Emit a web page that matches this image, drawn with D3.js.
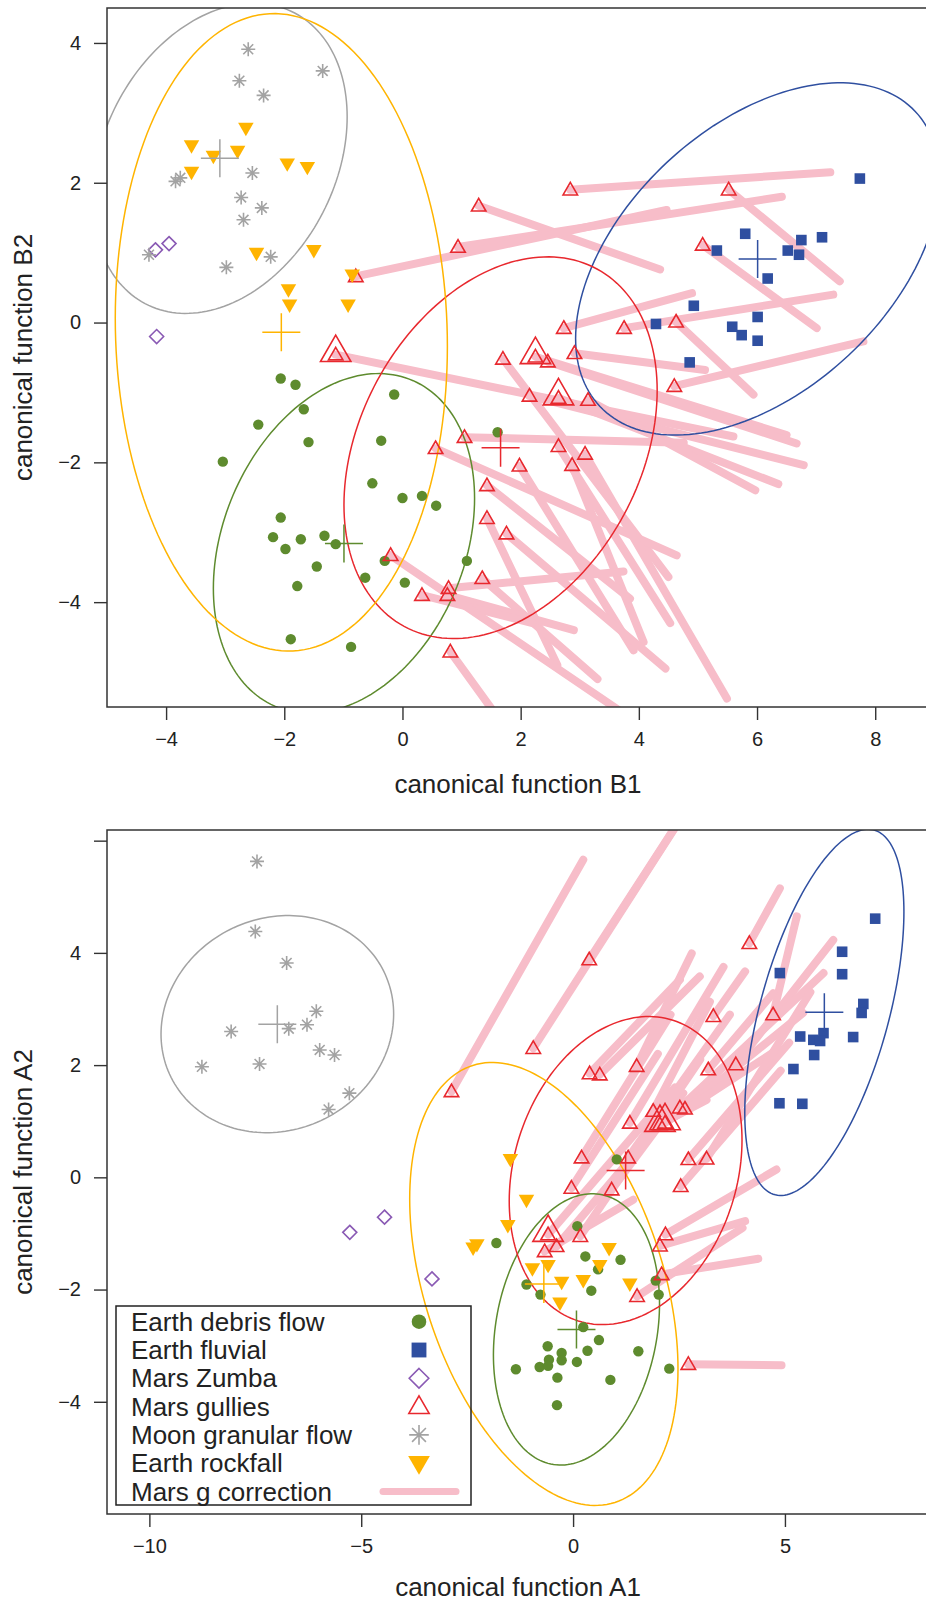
<!DOCTYPE html>
<html>
<head>
<meta charset="utf-8">
<script src="https://cdn.jsdelivr.net/npm/d3@7"></script>
<style>
  body { margin: 0; background: #fff; }
  svg text { font-family: "Liberation Sans", Arial, Helvetica, sans-serif; fill: #222; }
</style>
</head>
<body>
<div id="chart"></div>
<script>

// ---------- data: panel B (top) ----------
var topDebris = [[-2.06,-0.80],[-1.81,-0.89],[-1.67,-1.24],[-2.44,-1.46],[-1.59,-1.71],[-3.04,-1.99],[-0.14,-1.03],
  [-0.36,-1.69],[-0.51,-2.30],[0.00,-2.51],[0.33,-2.48],[0.57,-2.62],[-2.06,-2.79],[-2.19,-3.07],[-1.72,-3.10],
  [-1.98,-3.24],[-1.32,-3.05],[-1.13,-3.17],[-1.45,-3.49],[-1.78,-3.77],[-0.63,-3.65],[-0.30,-3.41],[0.04,-3.72],
  [1.09,-3.41],[-1.89,-4.53],[-0.87,-4.64],[1.61,-1.57]];
var topFluvial = [[7.74,2.06],[5.80,1.27],[5.32,1.03],[6.75,1.18],[7.10,1.22],[6.52,1.03],[6.71,0.97],[6.18,0.63],
  [4.93,0.24],[4.29,-0.02],[6.01,0.08],[5.58,-0.06],[5.74,-0.18],[6.01,-0.26],[4.86,-0.57]];
var topZumba = [[-4.18,1.04],[-3.95,1.13],[-4.16,-0.20]];
var topMoon = [[-2.61,3.91],[-1.35,3.60],[-2.76,3.46],[-2.35,3.25],[-3.84,2.02],[-3.76,2.07],[-2.54,2.14],[-2.73,1.79],
  [-2.38,1.64],[-2.69,1.47],[-4.29,0.97],[-2.23,0.94],[-2.98,0.79]];
var topRockfall = [[-2.65,2.78],[-3.57,2.53],[-2.79,2.45],[-3.20,2.38],[-3.57,2.15],[-1.95,2.27],[-1.61,2.22],
  [-2.47,0.99],[-1.50,1.03],[-0.85,0.68],[-1.93,0.47],[-1.91,0.25],[-0.92,0.25]];
var topGullies = [[1.29,1.67],[0.94,1.08],[-0.79,0.66],[2.84,1.90],[5.52,1.90],[5.08,1.11],[2.73,-0.08],[3.75,-0.08],
  [4.63,0.01],[4.60,-0.91],[1.70,-0.52],[2.25,-0.49],[2.46,-0.56],[2.91,-0.44],[2.15,-1.05],[2.64,-1.08],[3.14,-1.11],
  [-1.13,-0.46],[1.05,-1.64],[0.56,-1.80],[2.64,-1.77],[3.09,-1.88],[2.87,-2.04],[1.98,-2.05],[1.43,-2.33],[1.43,-2.80],
  [1.76,-3.02],[1.35,-3.66],[0.78,-3.80],[0.76,-3.90],[0.33,-3.90],[0.81,-4.71],[-0.20,-3.33]];
// gullies position after Mars g correction
var topGulliesG = [[4.36,0.76],[6.42,1.80],[4.47,1.61],[7.24,2.15],[7.40,0.59],[7.01,-0.08],[4.90,0.42],[7.29,0.40],
  [5.94,-1.03],[7.80,-0.27],[4.50,-3.64],[6.50,-1.61],[6.67,-1.73],[5.12,-0.68],[6.79,-2.04],[6.36,-2.31],[5.97,-2.40],
  [5.60,-1.63],[4.76,-1.72],[4.64,-3.33],[4.53,-4.30],[5.49,-5.38],[4.08,-4.57],[3.91,-4.69],[3.85,-3.95],[2.62,-4.90],
  [4.45,-4.95],[3.30,-5.10],[3.74,-3.56],[2.90,-4.40],[2.20,-4.30],[2.00,-6.10],[4.00,-5.74]];
// number of coincident gully observations at each position
var topGulliesN = [1,1,1,1,1,1,1,1,1,1,1,2,1,1,1,2,1,2,1,1,1,1,1,1,1,1,1,1,1,1,1,1,1];
// group centroids: debris, fluvial, gullies, moon, rockfall
var topCentroids = [[-0.99,-3.16],[6.01,0.91],[1.66,-1.79],[-3.09,2.35],[-2.05,-0.14]];
// ellipse spread: sd x, sd y, correlation
var topEllipses = [[2.21,2.43,0.265],[3.08,2.52,0.452],[2.65,2.73,0.30],[2.154,2.219,0.267],[2.81,4.56,-0.044]];
var topXTicks = [-4,-2,0,2,4,6,8];
var topYTicks = [-4,-2,0,2,4];

// ---------- data: panel A (bottom) ----------
var botDebris = [[-1.81,-1.17],[0.10,-0.87],[1.03,0.32],[0.29,-1.41],[1.12,-1.47],[0.59,-1.64],[-1.10,-1.91],
  [-0.77,-2.09],[0.43,-2.02],[1.95,-1.84],[2.02,-2.09],[0.24,-2.67],[0.61,-2.90],[-0.60,-3.01],[-0.27,-3.13],
  [0.34,-3.09],[1.54,-3.10],[-0.57,-3.25],[-0.27,-3.26],[0.09,-3.29],[-1.35,-3.42],[-0.79,-3.38],[-0.59,-3.36],
  [2.27,-3.41],[-0.37,-3.57],[0.88,-3.61],[-0.38,-4.06]];
var botFluvial = [[7.13,4.61],[6.35,4.02],[4.88,3.64],[6.35,3.62],[6.85,3.09],[6.81,2.93],[5.36,2.51],[5.91,2.57],
  [5.67,2.45],[5.83,2.43],[6.61,2.50],[5.69,2.18],[5.20,1.93],[4.87,1.32],[5.41,1.31]];
var botZumba = [[-5.27,-0.98],[-4.45,-0.71],[-3.33,-1.81]];
var botMoon = [[-7.46,5.63],[-7.50,4.38],[-6.76,3.82],[-6.06,2.96],[-6.28,2.72],[-6.71,2.65],[-8.07,2.60],[-5.98,2.27],
  [-5.63,2.18],[-8.76,1.97],[-7.40,2.02],[-5.28,1.50],[-5.77,1.21]];
var botRockfall = [[-1.48,0.32],[-1.10,-0.41],[-1.54,-0.86],[-2.36,-1.26],[-2.27,-1.20],[-0.96,-1.63],[-0.59,-1.57],
  [-0.27,-1.87],[0.24,-1.84],[0.63,-1.57],[0.85,-1.27],[1.34,-1.90],[-0.31,-2.24]];
var botGullies = [[4.16,4.17],[0.38,3.88],[-0.94,2.30],[-2.87,1.53],[4.72,2.90],[3.31,2.87],[1.50,1.98],[0.39,1.85],
  [0.63,1.83],[3.19,1.92],[3.84,2.01],[2.52,1.24],[2.64,1.22],[1.89,1.18],[2.05,0.94],[2.17,0.97],[1.34,0.97],
  [0.20,0.35],[1.30,0.35],[2.72,0.32],[3.15,0.33],[-0.04,-0.19],[0.91,-0.22],[2.54,-0.16],[-0.59,-1.02],[-0.67,-1.32],
  [-0.39,-1.23],[0.17,-1.05],[2.18,-1.02],[2.05,-1.22],[2.09,-1.73],[1.51,-2.12],[2.72,-3.33]];
var botGulliesG = [[4.88,5.15],[2.82,6.72],[2.82,6.72],[0.24,5.66],[5.28,4.65],[4.06,3.67],[2.80,3.99],[2.52,3.52],
  [2.99,3.58],[4.72,3.28],[6.14,4.23],[5.91,3.64],[5.43,2.93],[3.23,3.13],[3.15,1.38],[4.69,2.21],[3.55,3.75],
  [2.30,2.90],[3.70,2.90],[5.10,2.40],[5.60,3.30],[2.00,2.20],[2.60,1.50],[4.90,1.90],[2.40,1.60],[1.42,-0.40],
  [2.00,0.90],[3.00,2.10],[4.80,0.14],[4.06,-0.78],[4.37,-1.45],[4.00,-0.90],[4.92,-3.35]];
var botGulliesN = [1,1,1,1,1,1,1,1,1,1,1,1,1,1,2,2,1,1,1,1,1,1,1,1,2,1,1,1,1,1,1,1,1];
var botCentroids = [[0.08,-2.71],[5.93,2.94],[1.24,0.12],[-6.98,2.73],[-0.69,-1.90]];
var botEllipses = [[1.96,2.418,0.189],[1.878,3.263,0.549],[2.747,2.745,0.198],[2.745,1.935,0.093],[3.166,3.947,-0.384]];
var botXTicks = [-10,-5,0,5];
var botYTicks = [-4,-2,0,2,4,6];
var botYLabelled = [-4,-2,0,2,4];

var legendLabels = ["Earth debris flow","Earth fluvial","Mars Zumba","Mars gullies","Moon granular flow","Earth rockfall","Mars g correction"];

// ---------- styles ----------
var GREEN = "#5E8B2E", BLUE = "#2F4FA0", PURPLE = "#8A5AB4", RED = "#E8282E",
    GRAY = "#A3A3A3", ORANGE = "#FFB400", PINK = "#F7BDC9";
// centroid / ellipse colours in the order debris, fluvial, gullies, moon, rockfall
var groupColors = [GREEN, BLUE, RED, GRAY, ORANGE];

var svg = d3.select("#chart").append("svg")
    .attr("width", 926)
    .attr("height", 1604);

function fmt(d) { return d < 0 ? "\u2212" + Math.abs(d) : "" + d; }

function triUp(a) {
  var h = a * 0.866;
  return "M0," + (-2 * h / 3) + "L" + (a / 2) + "," + (h / 3) + "L" + (-a / 2) + "," + (h / 3) + "Z";
}
function triDown(a) {
  var h = a * 0.866;
  return "M0," + (2 * h / 3) + "L" + (a / 2) + "," + (-h / 3) + "L" + (-a / 2) + "," + (-h / 3) + "Z";
}
function diamond(d) { return "M0," + (-d) + "L" + d + ",0L0," + d + "L" + (-d) + ",0Z"; }
function asterisk(r) {
  var k = r * 0.7071;
  return "M" + (-r) + ",0H" + r + "M0," + (-r) + "V" + r +
         "M" + (-k) + "," + (-k) + "L" + k + "," + k + "M" + (-k) + "," + k + "L" + k + "," + (-k);
}

// draw symbols of one kind at (cx, cy) in a selection
function drawSymbol(g, kind, cx, cy, k) {
  k = k || 1;
  if (kind === "debris") {
    g.append("circle").attr("cx", cx).attr("cy", cy).attr("r", 5.2 * k).attr("fill", GREEN);
  } else if (kind === "fluvial") {
    g.append("rect").attr("x", cx - 5.3 * k).attr("y", cy - 5.3 * k).attr("width", 10.6 * k).attr("height", 10.6 * k).attr("fill", BLUE);
  } else if (kind === "zumba") {
    g.append("path").attr("transform", "translate(" + cx + "," + cy + ")").attr("d", diamond(7 * k))
      .attr("fill", "none").attr("stroke", PURPLE).attr("stroke-width", 1.6);
  } else if (kind === "gullies") {
    g.append("path").attr("transform", "translate(" + cx + "," + (cy + 1) + ")").attr("d", triUp(14.5 * k))
      .attr("fill", "none").attr("stroke", RED).attr("stroke-width", 1.6);
  } else if (kind === "moon") {
    g.append("path").attr("transform", "translate(" + cx + "," + cy + ")").attr("d", asterisk(7 * k))
      .attr("fill", "none").attr("stroke", GRAY).attr("stroke-width", 1.6);
  } else if (kind === "rockfall") {
    g.append("path").attr("transform", "translate(" + cx + "," + (cy - 1) + ")").attr("d", triDown(15.5 * k))
      .attr("fill", ORANGE);
  }
}

function drawPanel(p) {
  var x = p.x, y = p.y;
  var x0 = x.range()[0], x1 = x.range()[1], y0 = y.range()[1], y1 = y.range()[0];

  svg.append("clipPath").attr("id", p.id)
    .append("rect").attr("x", x0).attr("y", y0).attr("width", x1 - x0).attr("height", y1 - y0);

  var g = svg.append("g").attr("clip-path", "url(#" + p.id + ")");

  // Mars g correction segments
  g.selectAll(".gline")
    .data(p.gullies)
    .enter().append("line")
      .attr("x1", function(d) { return x(d[0]); })
      .attr("y1", function(d) { return y(d[1]); })
      .attr("x2", function(d, i) { return x(p.gulliesG[i][0]); })
      .attr("y2", function(d, i) { return y(p.gulliesG[i][1]); })
      .attr("stroke", PINK)
      .attr("stroke-width", 8)
      .attr("stroke-linecap", "round");

  // confidence ellipses
  var ts = d3.range(0, 2 * Math.PI, Math.PI / 90);
  var line = d3.line().curve(d3.curveLinearClosed);
  p.ellipses.forEach(function(e, i) {
    var c = p.centroids[i];
    var pts = ts.map(function(t) {
      var ex = c[0] + e[0] * Math.cos(t);
      var ey = c[1] + e[1] * (e[2] * Math.cos(t) + Math.sqrt(1 - e[2] * e[2]) * Math.sin(t));
      return [x(ex), y(ey)];
    });
    g.append("path").attr("d", line(pts))
      .attr("fill", "none").attr("stroke", groupColors[i]).attr("stroke-width", 1.5);
  });

  // points
  p.debris.forEach(function(d) { drawSymbol(g, "debris", x(d[0]), y(d[1])); });
  p.fluvial.forEach(function(d) { drawSymbol(g, "fluvial", x(d[0]), y(d[1])); });
  p.zumba.forEach(function(d) { drawSymbol(g, "zumba", x(d[0]), y(d[1])); });
  p.gullies.forEach(function(d, i) {
    drawSymbol(g, "gullies", x(d[0]), y(d[1]));
    if (p.gulliesN[i] > 1) drawSymbol(g, "gullies", x(d[0]), y(d[1]) - 3, 2.1);
  });
  p.moon.forEach(function(d) { drawSymbol(g, "moon", x(d[0]), y(d[1])); });
  p.rockfall.forEach(function(d) { drawSymbol(g, "rockfall", x(d[0]), y(d[1])); });

  // centroid crosses
  p.centroids.forEach(function(c, i) {
    var cx = x(c[0]), cy = y(c[1]);
    g.append("path").attr("d", "M" + (cx - 19) + "," + cy + "H" + (cx + 19) + "M" + cx + "," + (cy - 19) + "V" + (cy + 19))
      .attr("stroke", groupColors[i]).attr("stroke-width", 1.5).attr("fill", "none");
  });

  // axes
  var xa = d3.axisBottom(x).tickValues(p.xTicks).tickSize(13).tickPadding(12).tickFormat(fmt);
  var ya = d3.axisLeft(y).tickValues(p.yTicks).tickSize(13).tickPadding(13)
    .tickFormat(function(d) { return p.yLabelled.indexOf(d) >= 0 ? fmt(d) : ""; });

  var gx = svg.append("g").attr("transform", "translate(0," + y1 + ")").call(xa);
  var gy = svg.append("g").attr("transform", "translate(" + x0 + ",0)").call(ya);
  [gx, gy].forEach(function(a) {
    a.select(".domain").remove();
    a.selectAll(".tick line").attr("stroke", "#333").attr("stroke-width", 1.4);
    a.selectAll(".tick text").attr("font-size", 20).attr("fill", "#222")
      .attr("font-family", "'Liberation Sans', Arial, sans-serif");
  });

  // box
  svg.append("rect").attr("x", x0).attr("y", y0).attr("width", x1 - x0).attr("height", y1 - y0)
    .attr("fill", "none").attr("stroke", "#333").attr("stroke-width", 1.5);

  // titles
  svg.append("text")
    .attr("x", (x0 + x1) / 2).attr("y", p.xTitleY)
    .attr("text-anchor", "middle").attr("font-size", 26)
    .text(p.xTitle);
  svg.append("text")
    .attr("transform", "translate(32," + ((y0 + y1) / 2) + ") rotate(-90)")
    .attr("text-anchor", "middle").attr("font-size", 26)
    .text(p.yTitle);
}

drawPanel({
  id: "clipTop",
  x: d3.scaleLinear().domain([-5, 8.91]).range([107, 929]),
  y: d3.scaleLinear().domain([-5.5, 4.5]).range([707, 8]),
  debris: topDebris, fluvial: topFluvial, zumba: topZumba, moon: topMoon, rockfall: topRockfall,
  gullies: topGullies, gulliesG: topGulliesG, gulliesN: topGulliesN,
  centroids: topCentroids, ellipses: topEllipses,
  xTicks: topXTicks, yTicks: topYTicks, yLabelled: topYTicks,
  xTitle: "canonical function B1", yTitle: "canonical function B2", xTitleY: 793
});

drawPanel({
  id: "clipBot",
  x: d3.scaleLinear().domain([-11, 8.40]).range([107, 929]),
  y: d3.scaleLinear().domain([-6, 6.19]).range([1514, 830]),
  debris: botDebris, fluvial: botFluvial, zumba: botZumba, moon: botMoon, rockfall: botRockfall,
  gullies: botGullies, gulliesG: botGulliesG, gulliesN: botGulliesN,
  centroids: botCentroids, ellipses: botEllipses,
  xTicks: botXTicks, yTicks: botYTicks, yLabelled: botYLabelled,
  xTitle: "canonical function A1", yTitle: "canonical function A2", xTitleY: 1596
});

// legend
var legend = svg.append("g");
legend.append("rect").attr("x", 116).attr("y", 1306).attr("width", 355).attr("height", 199)
  .attr("fill", "none").attr("stroke", "#222").attr("stroke-width", 1.5);
var kinds = ["debris", "fluvial", "zumba", "gullies", "moon", "rockfall"];
legendLabels.forEach(function(lab, i) {
  var cy = 1321.7 + i * 28.3;
  legend.append("text").attr("x", 131).attr("y", cy + 9).attr("font-size", 26).text(lab);
  if (i < kinds.length) {
    drawSymbol(legend, kinds[i], 419, cy, 1.4);
  } else {
    legend.append("line").attr("x1", 383).attr("x2", 456).attr("y1", cy).attr("y2", cy)
      .attr("stroke", PINK).attr("stroke-width", 7).attr("stroke-linecap", "round");
  }
});

</script>
</body>
</html>
